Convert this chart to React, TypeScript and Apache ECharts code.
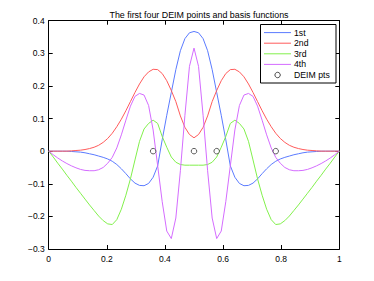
import React, { useEffect, useRef } from "react";
import * as echarts from "echarts";

const xs = [0, 0.015625, 0.03125, 0.046875, 0.0625, 0.078125, 0.09375, 0.109375, 0.125, 0.140625, 0.15625, 0.171875, 0.1875, 0.203125, 0.21875, 0.234375, 0.25, 0.265625, 0.28125, 0.296875, 0.3125, 0.328125, 0.34375, 0.359375, 0.375, 0.390625, 0.40625, 0.421875, 0.4375, 0.453125, 0.46875, 0.484375, 0.5, 0.515625, 0.53125, 0.546875, 0.5625, 0.578125, 0.59375, 0.609375, 0.625, 0.640625, 0.65625, 0.671875, 0.6875, 0.703125, 0.71875, 0.734375, 0.75, 0.765625, 0.78125, 0.796875, 0.8125, 0.828125, 0.84375, 0.859375, 0.875, 0.890625, 0.90625, 0.921875, 0.9375, 0.953125, 0.96875, 0.984375, 1];

const first = [0, 0, 0, 0, 0, -0.001, -0.002, -0.003, -0.005, -0.008, -0.011, -0.015, -0.019, -0.024, -0.031, -0.041, -0.054, -0.069, -0.085, -0.098, -0.105, -0.106, -0.099, -0.08, -0.045, 0.035, 0.11, 0.18, 0.25, 0.308, 0.345, 0.363, 0.367,
  0.363, 0.345, 0.308, 0.25, 0.18, 0.11, 0.035, -0.045, -0.08, -0.099, -0.106, -0.105, -0.098, -0.085, -0.069, -0.054, -0.041, -0.031, -0.024, -0.019, -0.015, -0.011, -0.008, -0.005, -0.003, -0.002, -0.001, 0, 0, 0, 0, 0];

const second = [0, 0, 0, 0, 0, 0.001, 0.002, 0.003, 0.005, 0.008, 0.012, 0.018, 0.027, 0.039, 0.055, 0.075, 0.098, 0.124, 0.152, 0.18, 0.206, 0.228, 0.243, 0.251, 0.25, 0.238, 0.216, 0.186, 0.152, 0.108, 0.073, 0.051, 0.041,
  0.051, 0.073, 0.108, 0.152, 0.186, 0.216, 0.238, 0.25, 0.251, 0.243, 0.228, 0.206, 0.18, 0.152, 0.124, 0.098, 0.075, 0.055, 0.039, 0.027, 0.018, 0.012, 0.008, 0.005, 0.003, 0.002, 0.001, 0, 0, 0, 0, 0];

const third = [0, -0.018, -0.037, -0.055, -0.074, -0.092, -0.111, -0.129, -0.147, -0.165, -0.182, -0.199, -0.213, -0.223, -0.225, -0.21, -0.178, -0.135, -0.085, -0.027, 0.03, 0.068, 0.085, 0.095, 0.085, 0.045, 0.012, -0.018, -0.034, -0.041, -0.043, -0.043, -0.043,
  -0.043, -0.043, -0.041, -0.034, -0.018, 0.012, 0.045, 0.085, 0.095, 0.085, 0.068, 0.03, -0.027, -0.085, -0.135, -0.178, -0.21, -0.225, -0.223, -0.213, -0.199, -0.182, -0.165, -0.147, -0.129, -0.111, -0.092, -0.074, -0.055, -0.037, -0.018, 0];

const fourth = [0, -0.011, -0.021, -0.03, -0.038, -0.045, -0.051, -0.056, -0.059, -0.06, -0.06, -0.057, -0.05, -0.037, -0.019, 0.01, 0.05, 0.095, 0.138, 0.168, 0.177, 0.172, 0.14, 0.065, -0.045, -0.155, -0.245, -0.268, -0.205, -0.06, 0.11, 0.26, 0.316,
  0.26, 0.11, -0.06, -0.205, -0.268, -0.245, -0.155, -0.045, 0.065, 0.14, 0.172, 0.177, 0.168, 0.138, 0.095, 0.05, 0.01, -0.019, -0.037, -0.05, -0.057, -0.06, -0.06, -0.059, -0.056, -0.051, -0.045, -0.038, -0.03, -0.021, -0.011, 0];

const deimX = [0.359375, 0.5, 0.578125, 0.78125];
const deimY = [0, 0, 0, 0];

const seriesNames = ["1st", "2nd", "3rd", "4th"];
const seriesColors = ["#5b7bff", "#ff5b5b", "#82f04c", "#d46cff"];
const seriesValues = [first, second, third, fourth];
const deimName = "DEIM pts";

const FONT = "'Liberation Sans', Arial, Helvetica, sans-serif";

const fmt = (v: number) => {
  if (Math.abs(v) < 1e-9) return "0";
  const s = String(parseFloat(v.toFixed(2)));
  return s.replace("-", "\u2212");
};

export default function App() {
  const ref = useRef<HTMLDivElement>(null);
  useEffect(() => {
    if (!ref.current) return;
    const chart = echarts.init(ref.current, undefined, { renderer: "svg" });
    const axisCommon = {
      type: "value" as const,
      axisLine: { show: true, onZero: false, lineStyle: { color: "#000", width: 1 } },
      axisTick: { show: true, inside: true, length: 4, lineStyle: { color: "#000" } },
      splitLine: { show: false },
    };
    const lineSeries = seriesValues.map((vals, k) => ({
      name: seriesNames[k],
      type: "line",
      data: xs.map((x, i) => [x, vals[i]]),
      showSymbol: false,
      symbol: "none",
      lineStyle: { color: seriesColors[k], width: 1 },
      itemStyle: { color: seriesColors[k] },
      z: 2,
    }));

    // legend box (drawn as graphic elements)
    const lgX = 260.5, lgY = 24.5, lgW = 75.5, lgH = 58.5;
    const rowY = [32.6, 43.2, 53.8, 64.4, 75.0];
    const legendEls: any[] = [
      { type: "rect", shape: { x: lgX, y: lgY, width: lgW, height: lgH }, style: { fill: "#fff", stroke: "#000", lineWidth: 1 }, z: 10 },
    ];
    seriesNames.forEach((n, k) => {
      legendEls.push({ type: "line", shape: { x1: 264, y1: rowY[k], x2: 291, y2: rowY[k] }, style: { stroke: seriesColors[k], lineWidth: 1 }, z: 11 });
      legendEls.push({ type: "text", x: 294, y: rowY[k], style: { text: n, fill: "#000", font: `8.7px ${FONT}`, verticalAlign: "middle", align: "left" }, z: 11 });
    });
    legendEls.push({ type: "circle", shape: { cx: 277.6, cy: rowY[4], r: 2.7 }, style: { fill: "#fff", stroke: "#333", lineWidth: 0.9 }, z: 11 });
    legendEls.push({ type: "text", x: 294, y: rowY[4], style: { text: deimName, fill: "#000", font: `8.7px ${FONT}`, verticalAlign: "middle", align: "left" }, z: 11 });

    chart.setOption({
      animation: false,
      backgroundColor: "#fff",
      title: {
        text: "The first four DEIM points and basis functions",
        left: 194,
        textAlign: "center",
        top: 5,
        textStyle: { fontFamily: FONT, fontSize: 8.9, fontWeight: "normal", color: "#000" },
      },
      grid: { left: 48.7, right: 34.7, top: 20.7, bottom: 32, containLabel: false },
      graphic: { elements: legendEls },
      xAxis: [
        {
          ...axisCommon,
          position: "bottom",
          min: 0,
          max: 1,
          interval: 0.2,
          axisLabel: { fontFamily: FONT, fontSize: 8.5, color: "#000", margin: 5, formatter: fmt },
        },
        {
          ...axisCommon,
          position: "top",
          min: 0,
          max: 1,
          interval: 0.2,
          axisLabel: { show: false },
        },
      ],
      yAxis: [
        {
          ...axisCommon,
          position: "left",
          min: -0.3,
          max: 0.4,
          interval: 0.1,
          axisLabel: { fontFamily: FONT, fontSize: 8.5, color: "#000", margin: 4, formatter: fmt },
        },
        {
          ...axisCommon,
          position: "right",
          min: -0.3,
          max: 0.4,
          interval: 0.1,
          axisLabel: { show: false },
        },
      ],
      series: [
        ...lineSeries,
        {
          name: deimName,
          type: "scatter",
          data: deimX.map((x, i) => [x, deimY[i]]),
          symbol: "circle",
          symbolSize: 5.5,
          itemStyle: { color: "#fff", borderColor: "#333", borderWidth: 1 },
          z: 3,
        },
      ],
    });
    return () => chart.dispose();
  }, []);
  return <div ref={ref} style={{ position: "absolute", left: 0, top: 0, width: 374, height: 281 }} />;
}
